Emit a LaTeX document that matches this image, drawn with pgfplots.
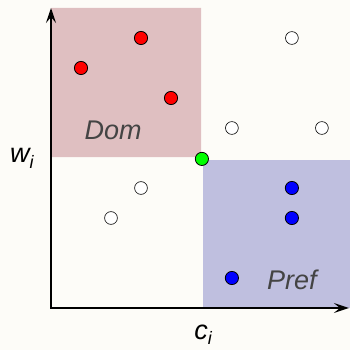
\documentclass[border=0pt]{standalone}
\usepackage{pgfplots}
\pgfplotsset{compat=1.18}
\usetikzlibrary{arrows.meta}
\usepackage{fontspec}
\setmainfont{Liberation Sans}
\definecolor{bg}{RGB}{253,252,248}
\definecolor{domc}{RGB}{223,191,193}
\definecolor{prefc}{RGB}{191,191,223}
\definecolor{lbl}{RGB}{68,68,68}
\begin{document}
\begin{tikzpicture}[x=1pt,y=1pt]
\fill[bg] (-51,-42) rectangle (299,308);
\begin{axis}[
  at={(0,0)}, anchor=south west,
  scale only axis, width=300pt, height=300pt,
  xmin=0, xmax=10, ymin=0, ymax=10,
  hide axis, clip=false,
]
\addplot[fill=domc, draw=none] coordinates {(0,5.03) (5,5.03) (5,10) (0,10) (0,5.03)};
\addplot[fill=prefc, draw=none] coordinates {(5.07,0) (10,0) (10,4.93) (5.07,4.93) (5.07,0)};
\draw[line width=1.8pt, -{Stealth[length=15pt,width=10pt,inset=6pt]}] (axis cs:0,-0.03) -- (axis cs:0,10);
\draw[line width=1.8pt, -{Stealth[length=15pt,width=10pt,inset=6pt]}] (axis cs:-0.03,0) -- (axis cs:9.93,0);
\addplot[only marks, mark=*, mark size=6.4pt, mark options={fill=white, draw=black, line width=0.6pt}]
  coordinates {(8.03,9) (6.03,6) (9.03,6) (3,4) (2,3)};
\addplot[only marks, mark=*, mark size=6.6pt, mark options={fill=red, draw=black, line width=0.8pt}]
  coordinates {(1,8) (3,9) (4,7)};
\addplot[only marks, mark=*, mark size=6.6pt, mark options={fill=blue, draw=black, line width=0.8pt}]
  coordinates {(8.03,4) (8.03,3) (6.03,1)};
\addplot[only marks, mark=*, mark size=6.6pt, mark options={fill=green, draw=black, line width=0.8pt}]
  coordinates {(5.03,4.97)};
\node[text=lbl, font=\fontsize{27}{32}\selectfont\itshape] at (axis cs:2.07,5.93) {Dom};
\node[text=lbl, font=\fontsize{27}{32}\selectfont\itshape] at (axis cs:8.03,0.93) {Pref};
\node[font=\fontsize{27}{32}\selectfont\itshape] at (axis cs:-0.97,5.0) {w\raisebox{-6pt}{\fontsize{18}{18}\selectfont i}};
\node[font=\fontsize{27}{32}\selectfont\itshape] at (axis cs:5.07,-0.9) {c\raisebox{-5pt}{\fontsize{18}{18}\selectfont i}};
\end{axis}
\pgfresetboundingbox
\path (-51,-42) rectangle (299,308);
\end{tikzpicture}
\end{document}
